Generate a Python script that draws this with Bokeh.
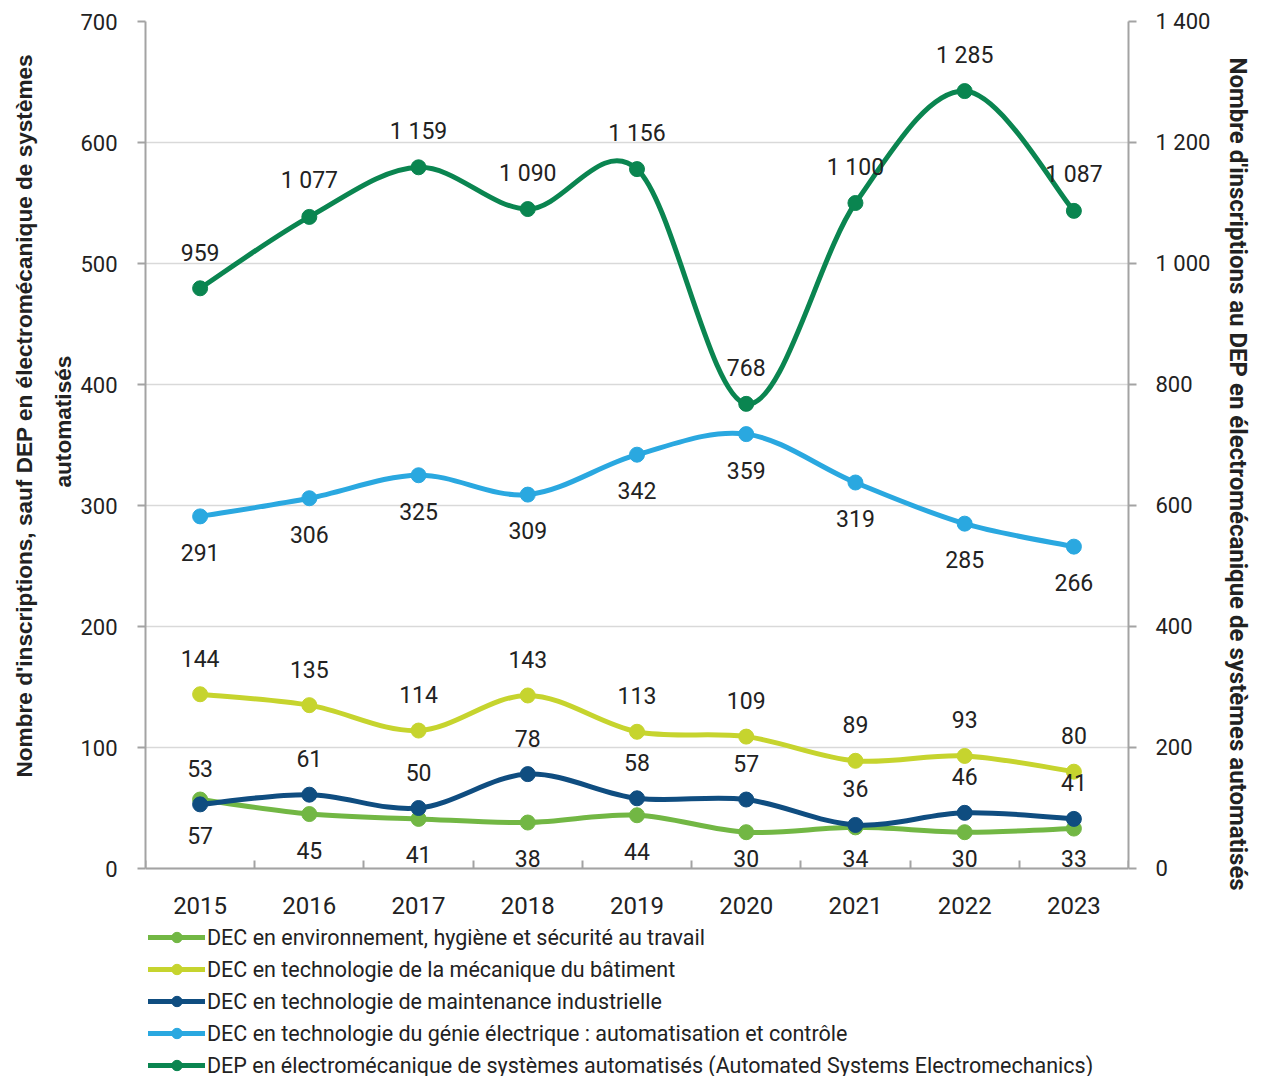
from bokeh.plotting import figure
from bokeh.models import Range1d, LinearAxis, FixedTicker, Legend, LegendItem, ColumnDataSource, Title
from bokeh.core.properties import value
from bokeh.embed import file_html
from bokeh.resources import INLINE

# ---------------- data ----------------
years = ["2015", "2016", "2017", "2018", "2019", "2020", "2021", "2022", "2023"]
env = [57, 45, 41, 38, 44, 30, 34, 30, 33]
meca = [144, 135, 114, 143, 113, 109, 89, 93, 80]
maint = [53, 61, 50, 78, 58, 57, 36, 46, 41]
genie = [291, 306, 325, 309, 342, 359, 319, 285, 266]
dep = [959, 1077, 1159, 1090, 1156, 768, 1100, 1285, 1087]

left_ticks = [0, 100, 200, 300, 400, 500, 600, 700]
right_ticks = [0, 200, 400, 600, 800, 1000, 1200, 1400]

series_names = [
    "DEC en environnement, hygiène et sécurité au travail",
    "DEC en technologie de la mécanique du bâtiment",
    "DEC en technologie de maintenance industrielle",
    "DEC en technologie du génie électrique : automatisation et contrôle",
    "DEP en électromécanique de systèmes automatisés (Automated Systems Electromechanics)",
]
series_values = [env, meca, maint, genie, dep]
series_colors = ["#72b744", "#c6d42e", "#0f4d80", "#2aa8e0", "#0a8550"]
series_axis = ["default", "default", "default", "default", "right"]
label_side = ["below", "above", "above", "below", "above"]

left_title_lines = ["Nombre d'inscriptions, sauf DEP en électromécanique de systèmes", "automatisés"]
right_title = "Nombre d'inscriptions au DEP en électromécanique de systèmes automatisés"

TEXT = "#222222"
AXIS = "#a3a3a3"
GRID = "#d9d9d9"


def fmt(v):
    return f"{v:,}".replace(",", " ")


# ---------------- layout constants (pixels) ----------------
W, H = 1265, 1076
FRAME_TOP, ZERO_Y = 21, 868          # top of plot area / y of the value 0
FRAME_LEFT, FRAME_RIGHT = 145, 1128
LABEL_OFF = 36

n = len(years)
xs = [i + 0.5 for i in range(n)]

# plot area extends below 0 so that the x-axis, its labels and the legend live inside it
px_left = (ZERO_Y - FRAME_TOP) / (left_ticks[-1] - left_ticks[0])
px_right = (ZERO_Y - FRAME_TOP) / (right_ticks[-1] - right_ticks[0])
y_min_left = -(H - ZERO_Y) / px_left
y_min_right = -(H - ZERO_Y) / px_right

p = figure(width=W, height=H, output_backend="svg", toolbar_location=None,
           x_range=Range1d(0, n), y_range=Range1d(y_min_left, left_ticks[-1]),
           min_border_left=FRAME_LEFT, min_border_right=W - FRAME_RIGHT,
           min_border_top=FRAME_TOP, min_border_bottom=0)
p.extra_y_ranges = {"right": Range1d(y_min_right, right_ticks[-1])}
p.outline_line_color = None
p.background_fill_color = None
p.border_fill_color = "white"

p.xgrid.grid_line_color = None
p.ygrid.grid_line_color = GRID
p.ygrid.grid_line_width = 1.5
p.ygrid.ticker = FixedTicker(ticks=left_ticks)

# x axis (fixed at value 0)
xa = p.xaxis[0]
xa.fixed_location = 0
xa.ticker = FixedTicker(ticks=xs, minor_ticks=list(range(n + 1)))
xa.major_label_overrides = {x: y for x, y in zip(xs, years)}
xa.major_tick_in = 0
xa.major_tick_out = 0
xa.minor_tick_in = 8
xa.minor_tick_out = 0
xa.minor_tick_line_color = AXIS
xa.minor_tick_line_width = 2
xa.axis_line_color = AXIS
xa.axis_line_width = 2
xa.major_label_standoff = 28
xa.major_label_text_font = "Roboto"
xa.major_label_text_font_size = "24px"
xa.major_label_text_color = TEXT

# left axis
ya = p.yaxis[0]
ya.bounds = (left_ticks[0], left_ticks[-1])
ya.ticker = FixedTicker(ticks=left_ticks)
ya.major_label_overrides = {t: fmt(t) for t in left_ticks}
ya.major_tick_in = 0
ya.major_tick_out = 8
ya.minor_tick_line_color = None
ya.major_tick_line_color = AXIS
ya.major_tick_line_width = 2
ya.axis_line_color = AXIS
ya.axis_line_width = 2
ya.major_label_standoff = 20
ya.major_label_text_font = "Roboto"
ya.major_label_text_font_size = "22px"
ya.major_label_text_color = TEXT

# right axis
ra = LinearAxis(y_range_name="right", ticker=FixedTicker(ticks=right_ticks))
ra.bounds = (right_ticks[0], right_ticks[-1])
ra.major_label_overrides = {t: fmt(t) for t in right_ticks}
ra.major_tick_in = 0
ra.major_tick_out = 8
ra.minor_tick_line_color = None
ra.major_tick_line_color = AXIS
ra.major_tick_line_width = 2
ra.axis_line_color = AXIS
ra.axis_line_width = 2
ra.major_label_standoff = 19
ra.major_label_text_font = "Roboto"
ra.major_label_text_font_size = "22px"
ra.major_label_text_color = TEXT
p.add_layout(ra, "right")

# axis titles (as side-panel titles, so they can sit over the 0-700 span only)
t2 = Title(text=left_title_lines[1], align="left", offset=H - 487, standoff=4,
           text_font="Liberation Sans", text_font_style="bold", text_font_size="22.6px",
           text_color=TEXT)
t1 = Title(text=left_title_lines[0], align="left", offset=H - 777, standoff=16,
           vertical_align="top",
           text_font="Liberation Sans", text_font_style="bold", text_font_size="22.6px",
           text_color=TEXT)
p.add_layout(t2, "left")
p.add_layout(t1, "left")
tr = Title(text=right_title, align="left", offset=57 - FRAME_TOP, standoff=20,
           text_font="Roboto", text_font_style="bold", text_font_size="24px", text_color=TEXT)
p.add_layout(tr, "right")


# ---------------- smoothed lines (Catmull-Rom as cubic Bezier) ----------------
def bezier_source(xv, yv):
    m = len(xv)
    tx, ty = [], []
    for i in range(m):
        a, b = max(i - 1, 0), min(i + 1, m - 1)
        tx.append((xv[b] - xv[a]) / 2)
        ty.append((yv[b] - yv[a]) / 2)
    d = dict(x0=[], y0=[], x1=[], y1=[], cx0=[], cy0=[], cx1=[], cy1=[])
    for i in range(m - 1):
        d["x0"].append(xv[i]); d["y0"].append(yv[i])
        d["x1"].append(xv[i + 1]); d["y1"].append(yv[i + 1])
        d["cx0"].append(xv[i] + tx[i] / 3); d["cy0"].append(yv[i] + ty[i] / 3)
        d["cx1"].append(xv[i + 1] - tx[i + 1] / 3); d["cy1"].append(yv[i + 1] - ty[i + 1] / 3)
    return ColumnDataSource(d)


items = []
for name, vals, col, rng in zip(series_names, series_values, series_colors, series_axis):
    src = bezier_source(xs, vals)
    bz = p.bezier(x0="x0", y0="y0", x1="x1", y1="y1", cx0="cx0", cy0="cy0", cx1="cx1", cy1="cy1",
                  source=src, line_color=col, line_width=5, line_cap="round", y_range_name=rng)
    sc = p.scatter(xs, vals, size=15, fill_color=col, line_color=col, line_width=1, y_range_name=rng)
    items.append(LegendItem(label=name, renderers=[bz, sc]))

# data labels (kept inside the plot area, like the original)
px_per_unit = {"default": px_left, "right": px_right}
for vals, rng, side in zip(series_values, series_axis, label_side):
    if side == "above":
        offs = [-LABEL_OFF] * len(vals)
    else:
        offs = [min(LABEL_OFF, v * px_per_unit[rng] - 10) for v in vals]
    src = ColumnDataSource(dict(x=xs, y=vals, t=[fmt(v) for v in vals], off=offs))
    p.text(x="x", y="y", text="t", y_offset="off", source=src, y_range_name=rng,
           text_font=value("Roboto"), text_font_size=value("23px"), text_color=TEXT,
           text_align="center", text_baseline="middle")

# ---------------- legend ----------------
legend = Legend(items=items, location=(3, -2), orientation="vertical")
legend.margin = 0
legend.padding = 0
legend.border_line_color = None
legend.background_fill_color = None
legend.glyph_width = 57
legend.glyph_height = 26
legend.label_height = 26
legend.spacing = 6
legend.label_standoff = 2
legend.label_text_font = "Roboto"
legend.label_text_font_size = "21.5px"
legend.label_text_color = TEXT
p.add_layout(legend, "center")

open("out.html", "w").write(file_html(p, INLINE))
